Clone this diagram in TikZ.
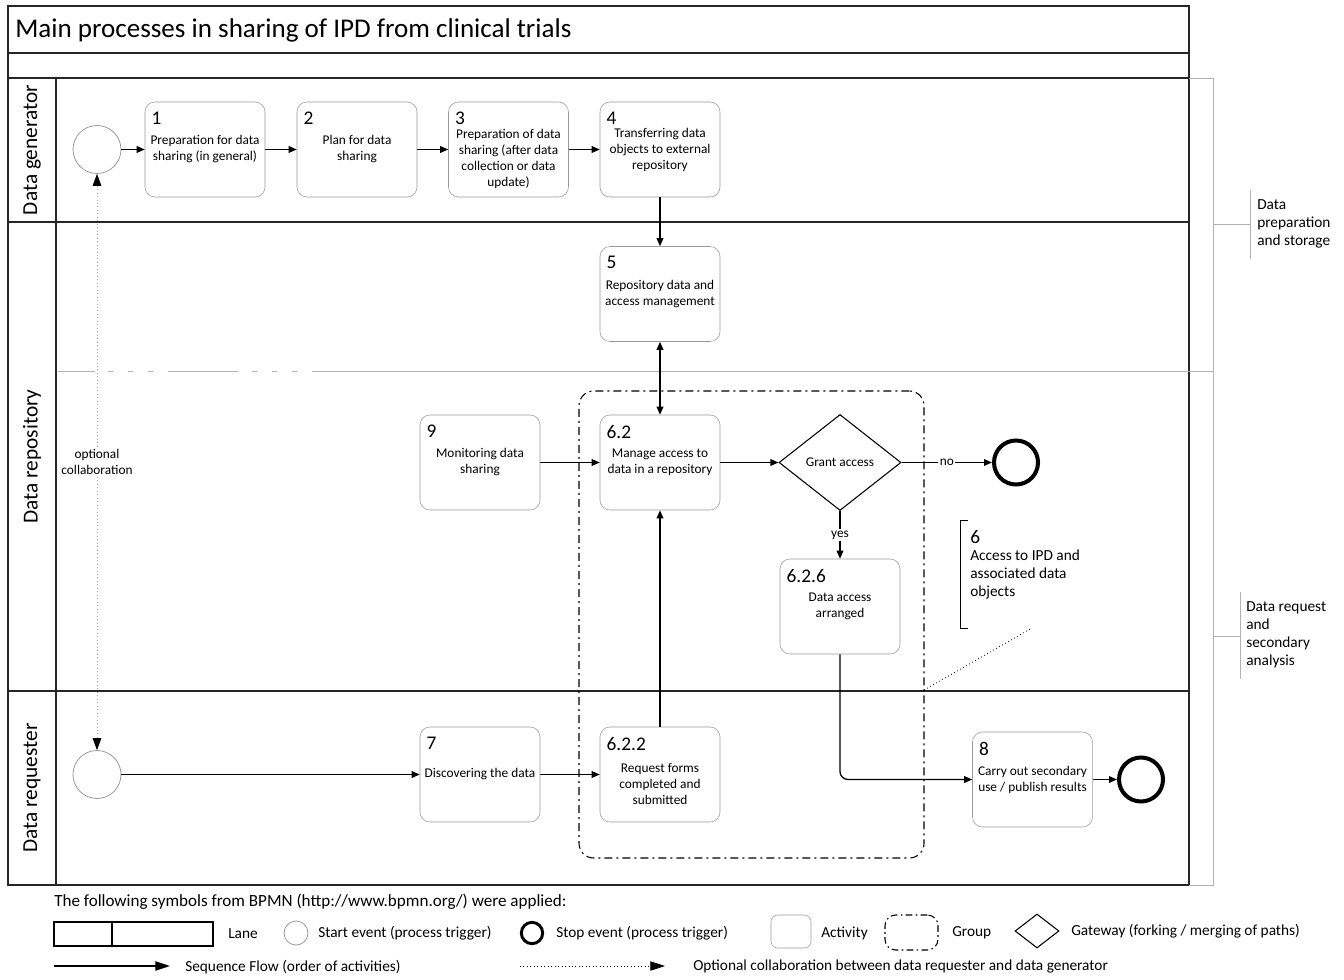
\documentclass[tikz,border=0pt]{standalone}
\usepackage{fontspec}
\setmainfont{Carlito}
\usetikzlibrary{arrows.meta,shapes.geometric}

\tikzset{
  frameline/.style={draw=black!85,line width=1.1pt},
  thinline/.style={draw=gray!60,line width=0.6pt},
  activity/.style={draw=gray!80,rounded corners=7.5pt,minimum width=90pt,minimum height=71.25pt,
    align=center,inner sep=1pt,font=\fontsize{10}{12}\selectfont},
  acttext/.style={align=center,inner sep=0pt,yshift=-6.75pt,font=\fontsize{10}{12}\selectfont},
  num/.style={anchor=north west,inner sep=0pt,xshift=5pt,yshift=-7.5pt,font=\fontsize{14.5}{14.5}\selectfont},
  startev/.style={circle,draw=gray!80,line width=0.6pt,minimum size=36pt,inner sep=0pt},
  stopev/.style={circle,draw=black,line width=3pt,minimum size=33pt,inner sep=0pt},
  gateway/.style={diamond,draw=black,line width=0.8pt,minimum width=91.5pt,minimum height=72pt,
    inner sep=0pt,font=\fontsize{10}{12}\selectfont},
  groupbox/.style={draw=black,line width=0.8pt,rounded corners=11pt,
    dash pattern=on 6pt off 3pt on 1.5pt off 3pt},
  seq/.style={-{Triangle[length=6pt,width=5pt]},line width=1pt},
  collab/.style={draw=gray!70,dotted,line width=0.6pt,
    {Triangle[length=9pt,width=6.5pt,black]}-{Triangle[length=9pt,width=6.5pt,black]}},
  lanelabel/.style={rotate=90,font=\fontsize{16}{16}\selectfont},
  flowlabel/.style={fill=white,inner sep=1pt,font=\fontsize{10}{12}\selectfont},
  sidetext/.style={anchor=west,align=left,inner sep=0pt,font=\fontsize{11.5}{13.5}\selectfont},
  legtext/.style={anchor=west,inner sep=0pt,font=\fontsize{11.5}{13}\selectfont}
}

\begin{document}
\begin{tikzpicture}[x=0.75pt,y=-0.75pt]
\useasboundingbox (0,0) rectangle (1344,980);

% pool and lanes
\draw [frameline] (8,6) rectangle (1189,885);
\draw [frameline] (8,53) -- (1189,53);
\draw [frameline] (8,78) -- (1189,78);
\draw [frameline] (8,222) -- (1189,222);
\draw [frameline] (8,691) -- (1189,691);
\draw [frameline] (56,78) -- (56,885);
\node (title) at (15,30)[anchor=west,inner sep=0pt,font=\fontsize{20.3}{20.3}\selectfont] {Main processes in sharing of IPD from clinical trials};
\node (lgen) at (32,150)[lanelabel] {Data generator};
\node (lrep) at (32,456.5)[lanelabel] {Data repository};
\node (lreq) at (32,788)[lanelabel] {Data requester};

% split between storage and request
\draw [thinline] (58,371) -- (95,371) (168,371) -- (238,371) (312,371) -- (1213,371);
\draw [thinline,dash pattern=on 3.75pt off 11.25pt] (108,371) -- (160,371) (252,371) -- (300,371);

% right brackets
\draw [thinline] (1189,78) -- (1213,78) -- (1213,885) -- (1189,885);
\draw [thinline] (1213,224) -- (1250,224);
\draw [thinline] (1250,190) -- (1250,259);
\draw [thinline] (1213,636) -- (1240,636);
\draw [thinline] (1240,592) -- (1240,679);
\node (prep) at (1257,224)[sidetext] {Data\\preparation\\and storage};
\node (reqan) at (1246,635)[sidetext] {Data request\\and\\secondary\\analysis};

% group 6
\node (grp) at (751.5,624.5)[groupbox,minimum width=258.75pt,minimum height=350.25pt] {};
\draw [line width=0.6pt] (968,520) -- (960,520) -- (960,628) -- (968,628);
\node (g6) at (970,537)[anchor=west,inner sep=0pt,font=\fontsize{14.5}{14.5}\selectfont] {6};
\node (g6t) at (970,574)[sidetext] {Access to IPD and\\associated data\\objects};
\coordinate (grpedge) at (924,690);
\coordinate (grpnote) at (1032,628);
\draw [dotted,line width=0.6pt] (grpedge) -- (grpnote);

% events
\node (s1) at (97,149.5)[startev] {};
\node (s2) at (97,774.5)[startev] {};
\node (e1) at (1016,462.5)[stopev] {};
\node (e2) at (1141,779.5)[stopev] {};
\node (gw) at (840,462.5)[gateway] {Grant access};

% activities
\node (a1) at (205,149.5)[activity,label={[num]north west:1}] {Preparation for data\\sharing (in general)};
\node (a2) at (357,149.5)[activity,label={[num]north west:2}] {Plan for data\\sharing};
\node (a3) at (508.5,149.5)[activity,label={[num]north west:3},
  label={[acttext]center:Preparation of data\\sharing (after data\\collection or data\\update)}] {};
\node (a4) at (660,149.5)[activity,label={[num]north west:4}] {Transferring data\\objects to external\\repository};
\node (a5) at (660,294)[activity,label={[num]north west:5}] {Repository data and\\access management};
\node (a9) at (480,462.5)[activity,label={[num]north west:9}] {Monitoring data\\sharing};
\node (a62) at (660,462.5)[activity,label={[num]north west:6.2}] {Manage access to\\data in a repository};
\node (a626) at (840,606.5)[activity,label={[num]north west:6.2.6}] {Data access\\arranged};
\node (a7) at (480,774.5)[activity,label={[num]north west:7}] {Discovering the data};
\node (a622) at (660,774.5)[activity,label={[num]north west:6.2.2},
  label={[acttext]center:Request forms\\completed and\\submitted}] {};
\node (a8) at (1032.5,779.5)[activity,label={[num]north west:8}] {Carry out secondary\\use / publish results};

% sequence flows
\draw [seq] (s1) -- (a1);
\draw [seq] (a1) -- (a2);
\draw [seq] (a2) -- (a3);
\draw [seq] (a3) -- (a4);
\draw [seq] (a4) -- (a5);
\draw [seq,{Triangle[length=6pt,width=5pt]}-{Triangle[length=6pt,width=5pt]}] (a5) -- (a62);
\draw [seq] (a9) -- (a62);
\draw [seq] (a62) -- (gw);
\draw [seq] (gw) -- node[flowlabel] {no} (e1);
\draw [seq] (gw) -- node[flowlabel] {yes} (a626);
\draw [seq] (s2) -- (a7);
\draw [seq] (a7) -- (a622);
\draw [seq] (a622) -- (a62);
\draw [seq,rounded corners=6pt] (a626.south) |- (a8.west);
\draw [seq] (a8) -- (e2);
\draw [collab] (s1.south) -- node[flowlabel,align=center,inner sep=2pt] {optional\\collaboration} (s2.north);

% legend
\node (leghead) at (54,902)[legtext,font=\fontsize{12.8}{13}\selectfont] {The following symbols from BPMN (http://www.bpmn.org/) were applied:};
\node (leglane) at (133.5,934)[draw=black,line width=0.8pt,minimum width=119.25pt,minimum height=18pt,inner sep=0pt] {};
\draw [line width=0.8pt] (112,922) -- (112,946);
\node (tlane) at (228,934)[legtext] {Lane};
\node (legstart) at (296,933)[startev,minimum size=18pt] {};
\node (tstart) at (318,933)[legtext] {Start event (process trigger)};
\node (legstop) at (532,933)[stopev,line width=2.2pt,minimum size=16pt] {};
\node (tstop) at (556,933)[legtext] {Stop event (process trigger)};
\node (legact) at (791,931.5)[activity,rounded corners=5pt,minimum width=30pt,minimum height=24.75pt] {};
\node (tact) at (821,933)[legtext] {Activity};
\node (leggrp) at (911.5,932.5)[groupbox,rounded corners=8pt,dash pattern=on 5pt off 2.5pt on 1.2pt off 2.5pt,minimum width=39.75pt,minimum height=26.25pt] {};
\node (tgrp) at (952,933)[legtext] {Group};
\node (leggw) at (1037,931)[gateway,minimum width=33pt,minimum height=25.5pt] {};
\node (tgw) at (1071,931)[legtext] {Gateway (forking / merging of paths)};
\coordinate (seqa) at (54,966);
\coordinate (seqb) at (170,966);
\draw [-{Triangle[length=11pt,width=7pt]},line width=0.9pt] (seqa) -- (seqb);
\node (tseq) at (185,967)[legtext] {Sequence Flow (order of activities)};
\coordinate (cola) at (520,966);
\coordinate (colb) at (665,966);
\draw [dotted,line width=0.6pt,-{Triangle[length=11pt,width=7pt]}] (cola) -- (colb);
\node (tcol) at (693,966)[legtext] {Optional collaboration between data requester and data generator};

\end{tikzpicture}
\end{document}
